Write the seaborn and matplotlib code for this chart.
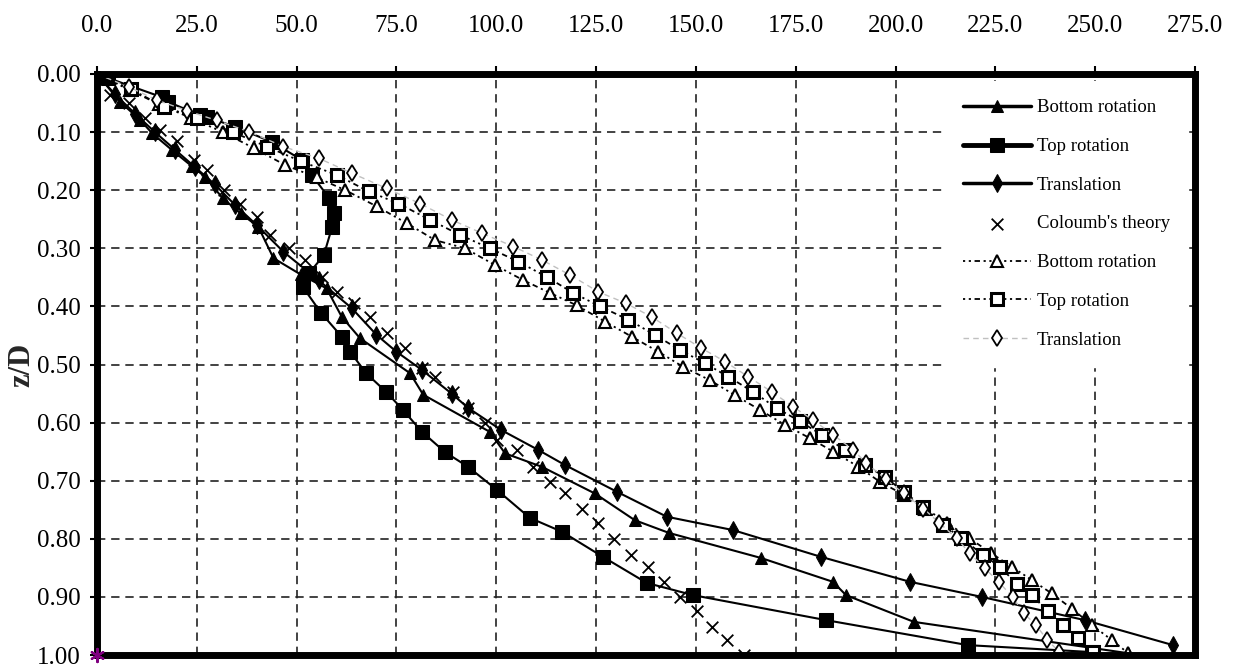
import matplotlib
matplotlib.use("Agg")
import matplotlib.pyplot as plt
import seaborn as sns

# depth ratio z/D vs pressure
br_x = [0, 5.8, 10.8, 13.8, 18.8, 23.8, 27.1, 31.5, 36.0, 40.4, 44.2, 51.0, 57.5, 61.3, 65.9, 78.4, 81.7,
        98.4, 102.2, 111.4, 124.7, 134.7, 143.3, 166.3, 184.3, 187.6, 204.6, 258.3]
br_z = [0, 0.048, 0.079, 0.102, 0.131, 0.159, 0.177, 0.214, 0.240, 0.263, 0.317, 0.345, 0.369, 0.418, 0.455,
        0.515, 0.552, 0.616, 0.653, 0.676, 0.722, 0.768, 0.790, 0.833, 0.874, 0.897, 0.943, 0.997]

tp_x = [0, 2.8, 16.3, 17.8, 25.8, 27.6, 34.6, 43.8, 51.3, 53.8, 58.1, 59.4, 58.9, 56.8, 53.1, 51.6, 56.1,
        61.4, 63.4, 67.4, 72.4, 76.6, 81.4, 87.2, 92.9, 100.2, 108.4, 116.5, 126.7, 137.7, 149.3, 182.6,
        218.1, 249.2]
tp_z = [0.005, 0.007, 0.040, 0.048, 0.071, 0.074, 0.091, 0.117, 0.148, 0.174, 0.213, 0.239, 0.263, 0.312,
        0.343, 0.367, 0.411, 0.453, 0.478, 0.515, 0.547, 0.578, 0.616, 0.651, 0.676, 0.716, 0.764, 0.788,
        0.831, 0.876, 0.897, 0.940, 0.983, 0.995]

tr_x = [0, 4.5, 9.5, 14.5, 19.5, 24.5, 29.5, 34.5, 40.0, 46.7, 55.5, 63.8, 70.0, 75.0, 81.3, 88.8, 93.0,
        101.3, 110.5, 117.2, 130.2, 142.7, 159.3, 181.3, 203.6, 221.6, 247.4, 269.5]
tr_z = [0, 0.035, 0.068, 0.100, 0.130, 0.160, 0.190, 0.225, 0.260, 0.306, 0.355, 0.403, 0.449, 0.478, 0.509,
        0.550, 0.575, 0.613, 0.647, 0.673, 0.719, 0.762, 0.785, 0.831, 0.874, 0.900, 0.940, 0.983]

cb_x = [0, 3.3, 8.0, 12.0, 15.9, 20.0, 24.2, 27.5, 31.7, 35.9, 40.0, 43.4, 48.0, 52.2, 56.3, 60.1, 64.3,
        68.4, 72.6, 77.1, 81.3, 84.7, 89.2, 93.0, 97.2, 100.1, 105.1, 109.3, 113.4, 117.2, 121.4, 125.6,
        129.6, 133.7, 137.9, 142.0, 146.0, 150.2, 154.0, 157.9, 162.0]
cb_z = [0, 0.036, 0.050, 0.075, 0.096, 0.116, 0.148, 0.165, 0.200, 0.223, 0.246, 0.277, 0.300, 0.320,
        0.349, 0.375, 0.395, 0.418, 0.446, 0.472, 0.506, 0.521, 0.547, 0.575, 0.601, 0.630, 0.647, 0.676,
        0.702, 0.722, 0.748, 0.773, 0.800, 0.828, 0.848, 0.874, 0.900, 0.925, 0.951, 0.974, 1.000]

obr_x = [0, 8.3, 15.5, 23.6, 31.5, 39.4, 47.2, 55.0, 62.2, 70.1, 77.6, 84.7, 92.2, 99.7, 106.8, 113.5,
         120.1, 127.2, 133.9, 140.6, 146.8, 153.5, 159.8, 166.0, 172.3, 178.6, 184.4, 190.7, 196.1, 202.0,
         207.5, 213.0, 218.5, 224.0, 229.1, 234.1, 239.1, 244.1, 249.1, 254.1, 258.3]
obr_z = [0, 0.028, 0.052, 0.076, 0.100, 0.128, 0.157, 0.178, 0.200, 0.228, 0.257, 0.286, 0.300, 0.329,
         0.355, 0.377, 0.398, 0.426, 0.452, 0.478, 0.504, 0.527, 0.553, 0.578, 0.604, 0.627, 0.650, 0.676,
         0.702, 0.724, 0.748, 0.773, 0.799, 0.825, 0.848, 0.871, 0.894, 0.920, 0.948, 0.974, 0.997]

otp_x = [0, 8.4, 16.7, 25.0, 34.0, 42.5, 51.0, 60.1, 68.0, 75.5, 83.4, 90.9, 98.4, 105.5, 112.6, 119.3,
         126.0, 133.1, 139.7, 146.0, 152.3, 158.1, 164.3, 170.2, 176.1, 181.5, 187.3, 192.3, 197.3, 202.0,
         207.0, 212.0, 216.5, 222.0, 226.1, 230.3, 234.1, 238.2, 242.0, 245.8, 249.5]
otp_z = [0, 0.026, 0.056, 0.076, 0.100, 0.125, 0.150, 0.174, 0.202, 0.223, 0.251, 0.277, 0.300, 0.323,
         0.349, 0.377, 0.400, 0.423, 0.449, 0.475, 0.498, 0.521, 0.547, 0.575, 0.598, 0.621, 0.647, 0.673,
         0.693, 0.719, 0.745, 0.776, 0.799, 0.828, 0.848, 0.877, 0.897, 0.925, 0.948, 0.971, 0.994]

otr_x = [0, 7.9, 15.0, 22.5, 30.0, 38.0, 46.7, 55.5, 63.9, 72.6, 80.9, 88.8, 96.4, 104.3, 111.4, 118.5,
         125.6, 132.6, 138.9, 145.2, 151.4, 157.3, 163.1, 169.0, 174.4, 179.4, 184.4, 189.4, 192.7, 197.5,
         202.0, 207.0, 211.0, 215.3, 218.6, 222.4, 225.8, 229.3, 232.1, 235.1, 238.0, 240.9]
otr_z = [0, 0.022, 0.045, 0.063, 0.080, 0.099, 0.125, 0.145, 0.171, 0.197, 0.223, 0.251, 0.274, 0.297,
         0.320, 0.346, 0.375, 0.395, 0.418, 0.446, 0.472, 0.495, 0.521, 0.547, 0.573, 0.596, 0.621, 0.647,
         0.670, 0.697, 0.722, 0.748, 0.773, 0.799, 0.825, 0.851, 0.874, 0.900, 0.928, 0.948, 0.974, 0.994]

x_ticks = [0, 25, 50, 75, 100, 125, 150, 175, 200, 225, 250, 275]
z_ticks = [0.0, 0.1, 0.2, 0.3, 0.4, 0.5, 0.6, 0.7, 0.8, 0.9, 1.0]

sns.set_style("white")
plt.rcParams['font.family'] = ['Liberation Serif', 'DejaVu Serif']

fig = plt.figure(figsize=(12.35, 6.64), dpi=100)
ax = fig.add_axes([97 / 1235, 1 - 655 / 664, 1098 / 1235, 581 / 664])

dashdot = (0, (1.2, 2, 1.2, 2, 3, 2))

# measured, filled markers
sns.lineplot(x=br_x, y=br_z, sort=False, estimator=None, color='black', lw=1.5,
             marker='^', ms=9, mfc='black', mec='black', label='Bottom rotation', ax=ax)
sns.lineplot(x=tp_x, y=tp_z, sort=False, estimator=None, color='black', lw=1.5,
             marker='s', ms=9.5, mfc='black', mec='black', label='Top rotation', ax=ax)
sns.lineplot(x=tr_x, y=tr_z, sort=False, estimator=None, color='black', lw=1.5,
             marker='d', ms=9, mfc='black', mec='black', label='Translation', ax=ax)
sns.scatterplot(x=cb_x, y=cb_z, marker='x', color='black', s=70, linewidth=1.3,
                label="Coloumb's theory", ax=ax, zorder=3)
# open markers
sns.lineplot(x=obr_x, y=obr_z, sort=False, estimator=None, color='black', lw=1.3, linestyle=dashdot,
             marker='^', ms=8, mfc='white', mec='black', mew=1.5, label='Bottom rotation', ax=ax)
sns.lineplot(x=otp_x, y=otp_z, sort=False, estimator=None, color='black', lw=1.3, linestyle=dashdot,
             marker='s', ms=8.5, mfc='white', mec='black', mew=2.2, label='Top rotation', ax=ax)
sns.lineplot(x=otr_x, y=otr_z, sort=False, estimator=None, color='#c0c0c0', lw=1.0, linestyle=(0, (4, 3)),
             marker='d', ms=8, mfc='white', mec='black', mew=1.3, label='Translation', ax=ax)

sns.scatterplot(x=[0], y=[1.0], marker=(6, 2, 0), color='purple', s=90, linewidth=1.6,
                ax=ax, zorder=10, clip_on=False)

ax.set_xlim(0, 275)
ax.set_ylim(1.0, 0.0)
ax.xaxis.tick_top()
ax.set_xticks(x_ticks)
ax.set_xticklabels([f"{v:.1f}" for v in x_ticks])
ax.set_yticks(z_ticks)
ax.set_yticklabels([f"{v:.2f}" for v in z_ticks])
ax.tick_params(axis='x', top=True, bottom=False, direction='out', length=6, width=1.5,
               pad=21, labelsize=18, colors='black')
ax.tick_params(axis='y', left=True, direction='out', length=5, width=1.5,
               pad=7, labelsize=18, colors='black')
ax.set_xlabel('')
ax.set_ylabel('z/D', fontsize=22, fontweight='bold', labelpad=0)

ax.grid(True, color='#222222', lw=1.2, linestyle=(0, (5, 3.5)))
for sp in ax.spines.values():
    sp.set_visible(True)
    sp.set_color('black')
    sp.set_linewidth(5)

leg = ax.legend(loc='upper right', bbox_to_anchor=(1.0, 1.0), fontsize=13.5, frameon=True,
                facecolor='white', edgecolor='white', framealpha=1, fancybox=False,
                handlelength=3.6, handletextpad=0.3, labelspacing=1.15, borderpad=1.0,
                borderaxespad=0.35)
for t in leg.get_texts():
    t.set_color('black')
# the legend draws the solid handles heavier than the curves
for h, w in zip(leg.get_lines()[:3], [2.5, 3.5, 2.5]):
    h.set_linewidth(w)

fig.savefig('out.png', dpi=100)
